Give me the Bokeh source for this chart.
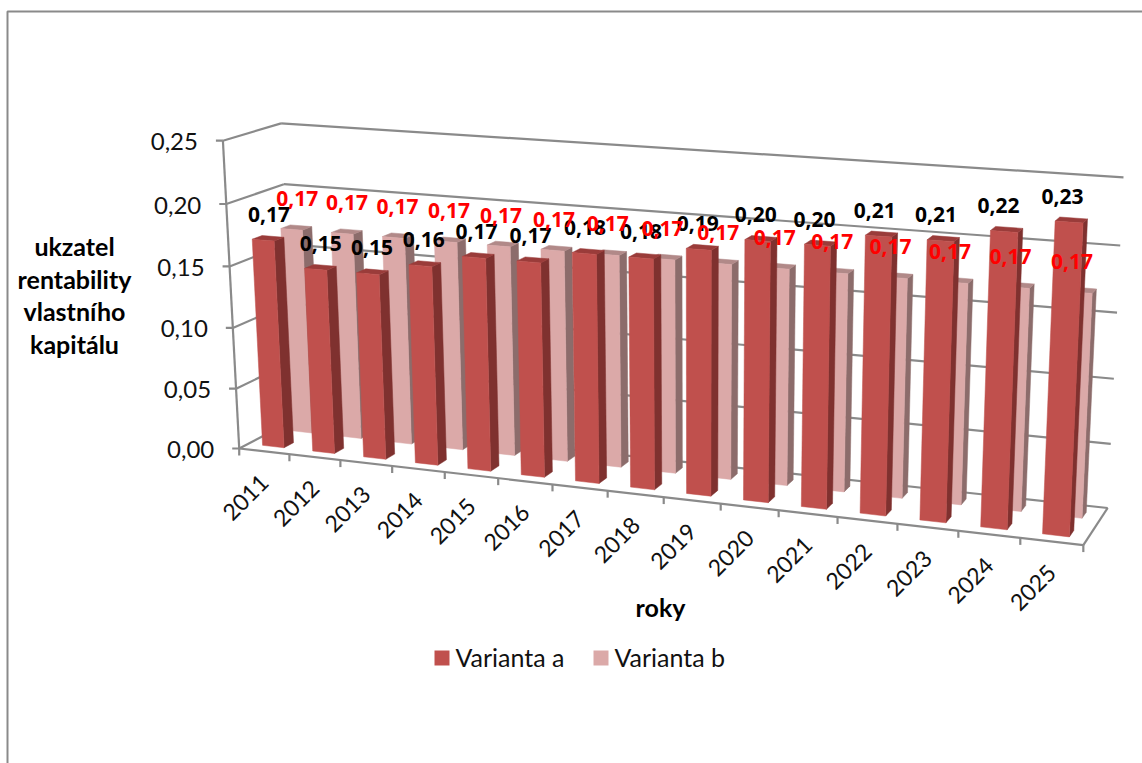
import numpy as np
from bokeh.core.properties import value
from bokeh.embed import file_html
from bokeh.models import Range1d
from bokeh.plotting import figure
from bokeh.resources import INLINE

years = [str(y) for y in range(2011, 2026)]
varianta_a = [0.17, 0.15, 0.15, 0.16, 0.17, 0.17, 0.18, 0.18, 0.19, 0.20, 0.20, 0.21, 0.21, 0.22, 0.23]
varianta_b = [0.17] * 15
y_ticks = [0.00, 0.05, 0.10, 0.15, 0.20, 0.25]

GRID = "#8A8A8A"
FONT = "Lato"
LABEL_FONT = "Open Sans"


def dec(v):
    return f"{v:.2f}".replace(".", ",")


# Perspective camera: fit a projective map from (category, depth, value) to the page.
anchors = [
    ((0, 0, 0), (238, 446)),
    ((15, 0, 0), (1083, 546)),
    ((0, 1, 0), (295, 421)),
    ((15, 1, 0), (1107, 506)),
    ((0, 0, 0.25), (223, 141)),
    ((0, 1, 0.25), (280, 122)),
    ((15, 1, 0.25), (1123, 177)),
]
rows, rhs = [], []
for (a, b, c), (sx, sy) in anchors:
    rows.append([a, b, c, 1, 0, 0, 0, 0, -sx * a, -sx * b, -sx * c])
    rhs.append(sx)
    rows.append([0, 0, 0, 0, a, b, c, 1, -sy * a, -sy * b, -sy * c])
    rhs.append(sy)
cam = np.linalg.lstsq(np.array(rows, float), np.array(rhs, float), rcond=None)[0]


def proj(u, d, h):
    w = cam[8] * u + cam[9] * d + cam[10] * h + 1
    return ((cam[0] * u + cam[1] * d + cam[2] * h + cam[3]) / w,
            (cam[4] * u + cam[5] * d + cam[6] * h + cam[7]) / w)


p = figure(width=1142, height=763, output_backend="svg", toolbar_location=None,
           x_range=Range1d(0, 1142), y_range=Range1d(763, 0),
           min_border=0, outline_line_color=None, background_fill_color="white",
           border_fill_color="white")
p.axis.visible = False
p.grid.visible = False


def seg(a, b, width=2.2):
    xa, ya = proj(*a)
    xb, yb = proj(*b)
    p.line([xa, xb], [ya, yb], line_color=GRID, line_width=width)


# Chart frame
p.line([7, 7, 1142], [763, 11, 11], line_color=GRID, line_width=2)

# Walls and floor
for t in y_ticks:
    seg((0, 0, t), (0, 1, t))
    seg((0, 1, t), (15, 1, t))
seg((0, 0, 0), (0, 0, 0.25))
seg((0, 0, 0), (15, 0, 0))
seg((15, 0, 0), (15, 1, 0))
for i in range(16):
    xa, ya = proj(i, 0, 0)
    p.line([xa, xa], [ya, ya + 7], line_color=GRID, line_width=2.2)
for t in y_ticks:
    xa, ya = proj(0, 0, t)
    p.line([xa - 7, xa], [ya, ya], line_color=GRID, line_width=2.2)


def bar(u0, u1, d0, d1, h, front, side, top):
    quads = [
        ([(u1, d0, 0), (u1, d1, 0), (u1, d1, h), (u1, d0, h)], side),
        ([(u0, d0, h), (u1, d0, h), (u1, d1, h), (u0, d1, h)], top),
        ([(u0, d0, 0), (u1, d0, 0), (u1, d0, h), (u0, d0, h)], front),
    ]
    for pts, col in quads:
        xy = [proj(*q) for q in pts]
        p.patch([q[0] for q in xy], [q[1] for q in xy], fill_color=col, line_color=col, line_width=0.5)


BAR_W = 0.43
BAR_D = 0.17
DEPTH_A = 0.16
DEPTH_B = 0.66
for series, d0, cols in ((varianta_b, DEPTH_B, ("#DBA9A8", "#8C6C6B", "#B18988")),
                         (varianta_a, DEPTH_A, ("#C0504D", "#7F312F", "#9A3C3A"))):
    for i in range(15):
        bar(i + 0.5 - BAR_W / 2, i + 0.5 + BAR_W / 2, d0, d0 + BAR_D, series[i], *cols)

# Value labels sit just above the top face of each bar
for series, d0, col, dy in ((varianta_a, DEPTH_A, "#000000", -24), (varianta_b, DEPTH_B, "#FF0000", -29)):
    xs, ys, tx = [], [], []
    for i in range(15):
        x, y = proj(i + 0.5, d0 + BAR_D / 2, series[i])
        xs.append(x + 1 - 0.7 * i)
        ys.append(y + dy)
        tx.append(dec(series[i]))
    p.text(xs, ys, text=tx, text_color=col, text_font=value(LABEL_FONT), text_font_style="bold",
           text_font_size="21px", text_align="center", text_baseline="middle")

# Value axis tick labels
xs, ys = zip(*[proj(0, 0, t) for t in y_ticks])
p.text([x - 25 for x in xs], [y + 1 for y in ys], text=[dec(t) for t in y_ticks], text_font=value(FONT),
       text_font_size="24px", text_align="right", text_baseline="middle", text_color="#111111")

# Category labels, rotated along the front edge
xs, ys = zip(*[proj(i + 0.5, 0, 0) for i in range(15)])
p.text([x for x in xs], [y + 27 for y in ys], text=years, text_font=value(FONT),
       text_font_size="23px", text_align="right", text_baseline="middle", angle=0.785, text_color="#111111")

# Axis titles
title_lines = ["ukzatel", "rentability", "vlastního", "kapitálu"]
title_y = [245, 278, 310, 343]
p.text([74] * 4, title_y, text=title_lines, text_font=value(FONT), text_font_style="bold",
       text_font_size="25px", text_align="center", text_baseline="middle", text_color="#000000")
p.text([660], [606], text=["roky"], text_font=value(FONT), text_font_style="bold",
       text_font_size="25px", text_align="center", text_baseline="middle", text_color="#000000")

# Legend
legend_names = ["Varianta a", "Varianta b"]
legend_cols = ["#C0504D", "#DBA9A8"]
legend_x = [434, 593]
for name, col, lx in zip(legend_names, legend_cols, legend_x):
    p.quad(left=[lx], right=[lx + 15], top=[650], bottom=[665], fill_color=col, line_color=None)
    p.text([lx + 21], [656], text=[name], text_font=value(FONT), text_font_size="25px",
           text_align="left", text_baseline="middle", text_color="#111111")

open("out.html", "w").write(file_html(p, INLINE))
